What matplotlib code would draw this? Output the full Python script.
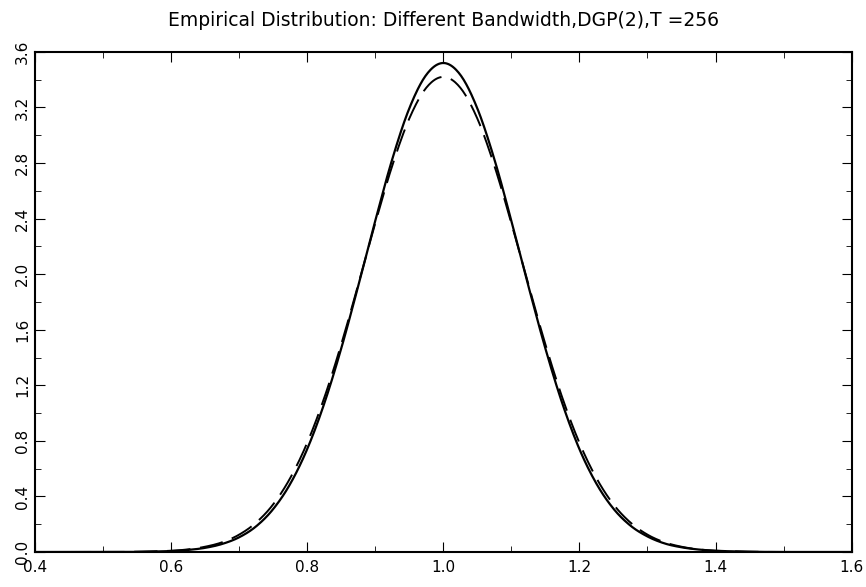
import numpy as np
import matplotlib
matplotlib.use("Agg")
import matplotlib.pyplot as plt
from matplotlib.ticker import MultipleLocator

# values
x_vals = [0.40, 0.50, 0.55, 0.60, 0.625, 0.65, 0.675, 0.70, 0.725, 0.75, 0.775,
          0.80, 0.825, 0.85, 0.875, 0.90, 0.925, 0.95, 0.975, 1.00,
          1.025, 1.05, 1.075, 1.10, 1.125, 1.15, 1.175, 1.20, 1.225, 1.25,
          1.275, 1.30, 1.325, 1.35, 1.375, 1.40, 1.45, 1.50, 1.60]
solid = [0.0, 0.0, 0.001, 0.007, 0.015, 0.030, 0.058, 0.106, 0.185, 0.309, 0.490,
         0.741, 1.068, 1.465, 1.915, 2.384, 2.828, 3.193, 3.435, 3.520,
         3.435, 3.193, 2.828, 2.384, 1.915, 1.465, 1.068, 0.741, 0.492, 0.312,
         0.190, 0.112, 0.062, 0.034, 0.018, 0.009, 0.002, 0.0, 0.0]
dashed = [0.0, 0.0, 0.002, 0.009, 0.019, 0.038, 0.070, 0.125, 0.212, 0.343, 0.532,
          0.786, 1.109, 1.495, 1.925, 2.367, 2.781, 3.120, 3.342, 3.420,
          3.342, 3.120, 2.781, 2.367, 1.925, 1.495, 1.109, 0.786, 0.532, 0.343,
          0.212, 0.125, 0.070, 0.038, 0.019, 0.009, 0.002, 0.0, 0.0]


def smooth(xp, yp, n=20):
    # catmull-rom through the read points so the peak isn't pointy
    xp = np.asarray(xp, float)
    yp = np.asarray(yp, float)
    xo, yo = [], []
    for i in range(len(xp) - 1):
        x0, x1 = xp[i], xp[i + 1]
        ym, y0, y1 = yp[max(i - 1, 0)], yp[i], yp[i + 1]
        y2 = yp[min(i + 2, len(yp) - 1)]
        xm = xp[max(i - 1, 0)]
        x2 = xp[min(i + 2, len(xp) - 1)]
        m0 = (y1 - ym) / (x1 - xm) * (x1 - x0)
        m1 = (y2 - y0) / (x2 - x0) * (x1 - x0)
        t = np.linspace(0, 1, n, endpoint=False)
        h00 = 2 * t**3 - 3 * t**2 + 1
        h10 = t**3 - 2 * t**2 + t
        h01 = -2 * t**3 + 3 * t**2
        h11 = t**3 - t**2
        xo.extend(x0 + t * (x1 - x0))
        yo.extend(h00 * y0 + h10 * m0 + h01 * y1 + h11 * m1)
    xo.append(xp[-1])
    yo.append(yp[-1])
    return np.array(xo), np.clip(np.array(yo), 0, None)


fig = plt.figure(figsize=(8.66, 5.87), dpi=100)
ax = fig.add_axes([0.0404, 0.0596, 0.943, 0.852])

sx, sy = smooth(x_vals, solid)
dx, dy = smooth(x_vals, dashed)
ax.plot(sx, sy, color="black", lw=1.6)
ax.plot(dx, dy, color="black", lw=1.4, linestyle=(0, (12, 5)))

ax.set_xlim(0.4, 1.6)
ax.set_ylim(0.0, 3.6)
ax.xaxis.set_major_locator(MultipleLocator(0.2))
ax.xaxis.set_minor_locator(MultipleLocator(0.1))
ax.yaxis.set_major_locator(MultipleLocator(0.4))
ax.yaxis.set_minor_locator(MultipleLocator(0.2))
ax.xaxis.set_major_formatter(lambda v, p: f"{v:.1f}")
ax.yaxis.set_major_formatter(lambda v, p: f"{v:.1f}")
ax.tick_params(which="both", direction="in", top=True, right=True, labelsize=11)
ax.tick_params(which="major", length=7)
ax.tick_params(which="minor", length=4)
ax.tick_params(axis="x", pad=6)
for lab in ax.get_yticklabels():
    lab.set_rotation(90)
    lab.set_va("center")
for sp in ax.spines.values():
    sp.set_linewidth(1.5)

fig.text(0.512, 0.965, "Empirical Distribution: Different Bandwidth,DGP(2),T =256",
         ha="center", va="center", fontsize=13.5)

fig.savefig("out.png", dpi=100)
